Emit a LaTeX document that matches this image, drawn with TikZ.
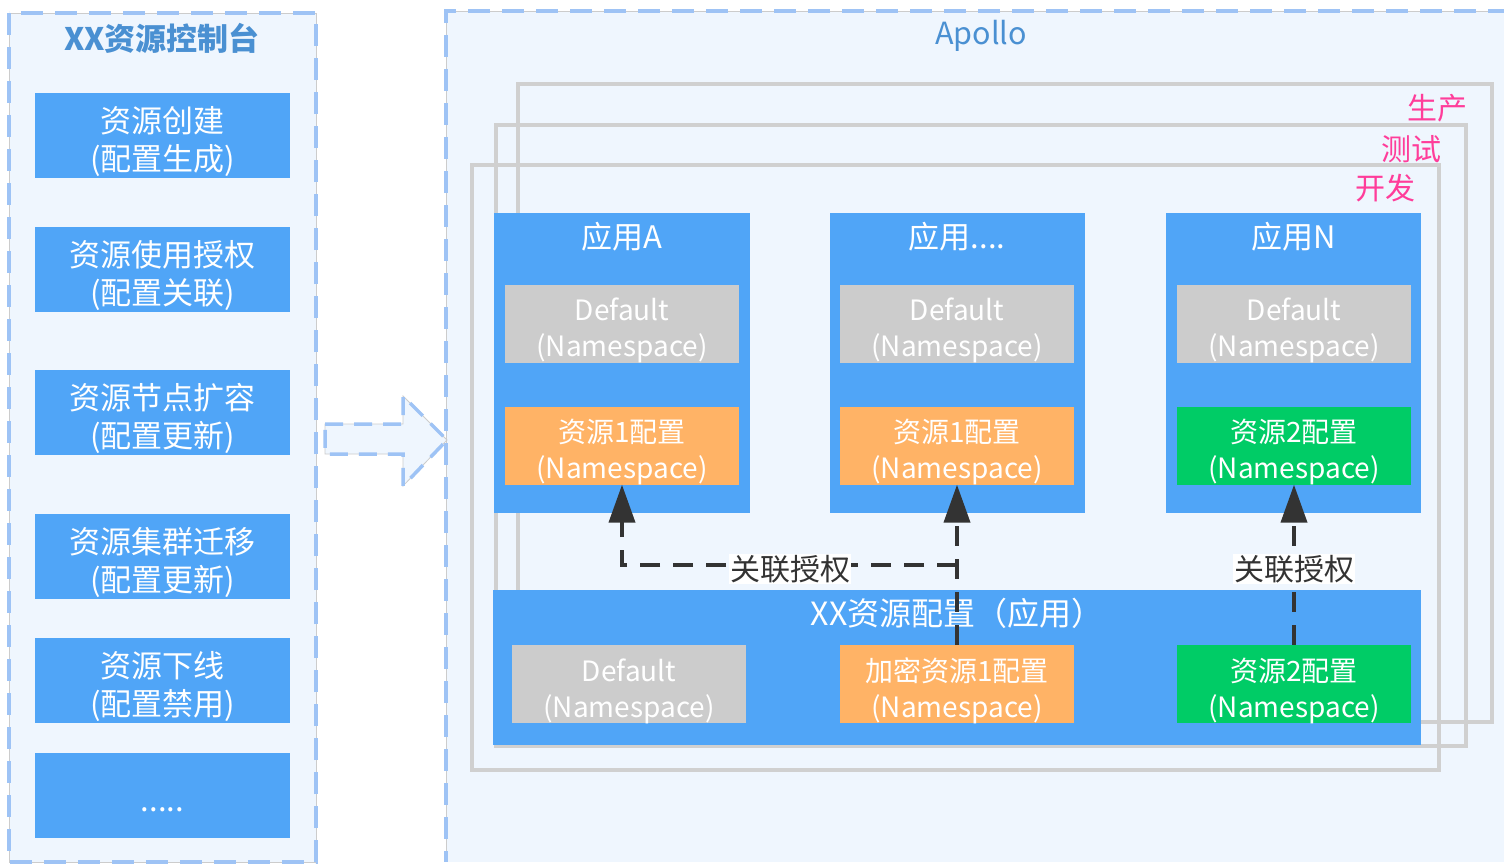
\documentclass[tikz,border=0pt]{standalone}
\usepackage{fontspec}
\setmainfont{Noto Sans CJK SC}
\usetikzlibrary{arrows.meta}
\definecolor{panelfill}{HTML}{EFF6FE}
\definecolor{dashblue}{HTML}{9EC3F5}
\definecolor{boxblue}{HTML}{50A5F7}
\definecolor{titleblue}{HTML}{4A90D2}
\definecolor{nsgray}{HTML}{CCCCCC}
\definecolor{nsorange}{HTML}{FFB366}
\definecolor{nsgreen}{HTML}{00CC66}
\definecolor{framegray}{HTML}{D0D0D0}
\definecolor{envpink}{HTML}{FF3D9A}
\definecolor{linkdark}{HTML}{333333}
\newcommand{\lowtext}[2]{\raisebox{#1}[\height][\depth]{\begin{tabular}{@{}c@{}}#2\end{tabular}}}
\tikzset{
  panelline/.style={draw=dashblue, line width=4pt, dash pattern=on 22pt off 12pt},
  thinline/.style={draw=black!20, line width=0.8pt},
  leftbox/.style={fill=boxblue, text=white, inner sep=0pt,
    minimum width=255pt, minimum height=85pt, font=\fontsize{31}{38}\selectfont},
  appbox/.style={fill=boxblue, inner sep=0pt, minimum width=256pt, minimum height=300pt},
  apptitle/.style={text=white, inner sep=0pt, font=\fontsize{31}{36}\selectfont},
  nsbox/.style={text=white, inner sep=0pt, minimum width=234pt,
    minimum height=78pt, font=\fontsize{28}{36}\selectfont},
  envframe/.style={draw=framegray, line width=4pt},
  envlabel/.style={text=envpink, inner sep=0pt, font=\fontsize{30}{36}\selectfont},
  linkline/.style={draw=linkdark, line width=4pt, dash pattern=on 20pt off 13pt,
    -{Triangle[length=38pt,width=26pt]}, color=linkdark},
  linklabel/.style={fill=white, text=linkdark, inner sep=1pt, font=\fontsize{30}{36}\selectfont},
  paneltitle/.style={text=titleblue, inner sep=0pt, font=\bfseries\fontsize{31}{36}\selectfont}
}
\begin{document}
\begin{tikzpicture}[x=1pt,y=-1pt]
\useasboundingbox (0,0) rectangle (1504,864);
\fill[white] (0,0) rectangle (1504,864);
% left panel
\fill[panelfill] (9,13) rectangle (316,862);
\draw[thinline] (9,13) rectangle (316,862);
\draw[panelline] (9,13) rectangle (316,862);
\node[paneltitle] (ltitle) at (162,38) {XX资源控制台};
\node[leftbox] (l1) at (162.5,135.5) {\lowtext{-8pt}{资源创建\\(配置生成)}};
\node[leftbox] (l2) at (162.5,269.5) {\lowtext{-8pt}{资源使用授权\\(配置关联)}};
\node[leftbox] (l3) at (162.5,412.5) {\lowtext{-8pt}{资源节点扩容\\(配置更新)}};
\node[leftbox] (l4) at (162.5,556.5) {\lowtext{-8pt}{资源集群迁移\\(配置更新)}};
\node[leftbox] (l5) at (162.5,680.5) {\lowtext{-8pt}{资源下线\\(配置禁用)}};
\node[leftbox] (l6) at (162.5,795.5) {\lowtext{-8pt}{.....}};
% right panel
\fill[panelfill] (446,11) rectangle (1510,862);
\draw[thinline] (446,11) -- (1510,11) (446,11) -- (446,862);
\draw[panelline] (1510,11) -- (446,11) -- (446,862);
\node[paneltitle, font=\fontsize{30.5}{36}\selectfont] (rtitle) at (981,36) {Apollo};
% hollow arrow
\fill[panelfill] (325,424) -- (403,424) -- (403,396) -- (447,440) -- (403,486) -- (403,454) -- (325,454) -- cycle;
\draw[thinline] (325,424) -- (403,424) -- (403,396) -- (447,440) -- (403,486) -- (403,454) -- (325,454) -- cycle;
\draw[panelline, line width=3.5pt, dash pattern=on 18pt off 11pt] (325,424) -- (403,424) -- (403,396) -- (447,440) -- (403,486) -- (403,454) -- (325,454) -- cycle;
% environment frames
\draw[envframe] (518,84) rectangle (1492,722);
\draw[envframe] (496,125) rectangle (1466,746);
\draw[envframe] (472,165) rectangle (1439,770);
\node[envlabel] (prod) at (1437,108) {生产};
\node[envlabel] (test) at (1411,149) {测试};
\node[envlabel] (dev) at (1385,188) {开发};
% applications
\node[appbox] (appA) at (622,363) {};
\node[appbox, minimum width=255pt] (appM) at (957.5,363) {};
\node[appbox, minimum width=255pt] (appN) at (1293.5,363) {};
\node[apptitle] (tA) at (622,237) {应用A};
\node[apptitle] (tM) at (957,237) {应用....};
\node[apptitle] (tN) at (1294,237) {应用N};
\node[nsbox, fill=nsgray] (dA) at (622,323.5) {\lowtext{-8pt}{Default\\(Namespace)}};
\node[nsbox, fill=nsgray] (dM) at (957,323.5) {\lowtext{-8pt}{Default\\(Namespace)}};
\node[nsbox, fill=nsgray] (dN) at (1294,323.5) {\lowtext{-8pt}{Default\\(Namespace)}};
\node[nsbox, fill=nsorange] (rA) at (622,445.5) {\lowtext{-8pt}{资源1配置\\(Namespace)}};
\node[nsbox, fill=nsorange] (rM) at (957,445.5) {\lowtext{-8pt}{资源1配置\\(Namespace)}};
\node[nsbox, fill=nsgreen] (rN) at (1294,445.5) {\lowtext{-8pt}{资源2配置\\(Namespace)}};
% bottom config app
\node[appbox, minimum width=928pt, minimum height=155pt] (cfg) at (957,667.5) {};
\node[apptitle, font=\fontsize{32}{36}\selectfont] (tcfg) at (957,613) {XX资源配置（应用）};
\node[nsbox, fill=nsgray] (dcfg) at (629,684) {\lowtext{-8pt}{Default\\(Namespace)}};
\node[nsbox, fill=nsorange] (enc) at (957,684) {\lowtext{-8pt}{加密资源1配置\\(Namespace)}};
\node[nsbox, fill=nsgreen] (gcfg) at (1294,684) {\lowtext{-8pt}{资源2配置\\(Namespace)}};
% links
\coordinate (j) at (957,565);
\draw[linkline] (enc.north) -- (rM.south);
\draw[linkline] (j) -| (rA.south);
\draw[linkline] (gcfg.north) -- (rN.south);
\node[linklabel] (lab1) at (790,569) {关联授权};
\node[linklabel] (lab2) at (1294,569) {关联授权};
\end{tikzpicture}
\end{document}
